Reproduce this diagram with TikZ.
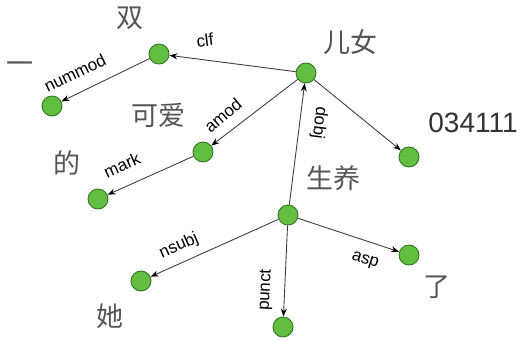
\documentclass[tikz,border=0pt]{standalone}
\usepackage{fontspec}
\setmainfont{Liberation Sans}
\newfontfamily\cjk{Noto Sans CJK SC}
\usetikzlibrary{arrows.meta}
\definecolor{nodefill}{RGB}{98,190,64}
\definecolor{nodeedge}{RGB}{52,118,34}
\definecolor{wordgray}{RGB}{85,85,85}
\definecolor{edgegray}{RGB}{64,64,64}
\begin{document}
\begin{tikzpicture}[x=1pt,y=-1pt,
  tok/.style={circle,fill=nodefill,draw=nodeedge,line width=0.9pt,minimum size=20pt,inner sep=0pt},
  word/.style={font=\cjk\fontsize{27}{27}\selectfont,text=wordgray,inner sep=0pt},
  num/.style={font=\fontsize{28}{28}\selectfont,text=black!80,inner sep=0pt},
  elabel/.style={font=\fontsize{17}{17}\selectfont,text=black,inner sep=0pt},
  dep/.style={draw=edgegray,line width=0.9pt,-{Stealth[length=8pt,width=6pt,color=black]}}]
\useasboundingbox (0,0) rectangle (527,340);

% tokens
\node[tok] (root) at (306,73) {};
\node[tok] (shuang) at (159,54) {};
\node[tok] (yi) at (52,106) {};
\node[tok] (keai) at (203,152) {};
\node[tok] (de) at (98,199) {};
\node[tok] (code) at (409,157) {};
\node[tok] (sheng) at (288,215) {};
\node[tok] (ta) at (141,281) {};
\node[tok] (dot) at (283,327) {};
\node[tok] (le) at (409,255) {};

% words
\node[word] (w1) at (130,18) {双};
\node[word] (w2) at (20,68) {一};
\node[word] (w3) at (158,115) {可爱};
\node[word] (w4) at (67,163) {的};
\node[word] (w5) at (350,42) {儿女};
\node[num] (w6) at (473,123) {034111};
\node[word] (w7) at (333,178) {生养};
\node[word] (w8) at (110,316) {她};
\node[word] (w9) at (437,287) {了};

% dependencies
\draw[dep] (root) -- (shuang);
\draw[dep] (shuang) -- (yi);
\draw[dep] (root) -- (keai);
\draw[dep] (keai) -- (de);
\draw[dep] (root) -- (code);
\draw[dep] (sheng) -- (root);
\draw[dep] (sheng) -- (ta);
\draw[dep] (sheng) -- (dot);
\draw[dep] (sheng) -- (le);

% relation labels
\node[elabel,rotate=7] (lclf) at (205,40) {clf};
\node[elabel,rotate=26] (lnummod) at (75,73) {nummod};
\node[elabel,rotate=40] (lamod) at (223,115) {amod};
\node[elabel,rotate=24] (lmark) at (122,165) {mark};
\node[elabel,rotate=-97] (ldobj) at (319,123) {dobj};
\node[elabel,rotate=24] (lnsubj) at (179,246) {nsubj};
\node[elabel,rotate=87] (lpunct) at (266,290) {punct};
\node[elabel,rotate=-18] (lasp) at (365,261) {asp};
\end{tikzpicture}
\end{document}
